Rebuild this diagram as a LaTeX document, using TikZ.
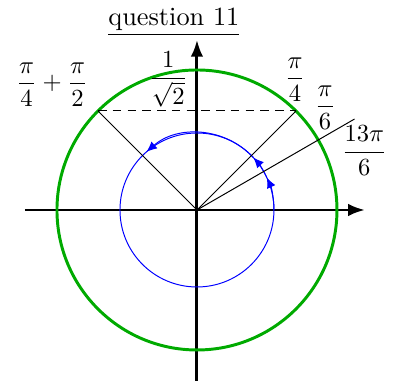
\documentclass[tikz,border=0pt]{standalone}
\usepackage{amsmath, amssymb}
\usepackage{tikz}
\usetikzlibrary{arrows.meta}
\definecolor{circgreen}{RGB}{0,170,0}
\tikzset{
  axis/.style={very thick, -{Latex[length=2.4mm,width=1.8mm]}},
  turn/.style={blue, -{Latex[length=1.5mm,width=1.3mm]}},
}

\begin{document}
\begin{tikzpicture}
				\useasboundingbox (-2.814,-2.429) rectangle (2.829,3.0);
				% axes
				\coordinate (O) at (0,0);
				\coordinate (xl) at (-2.46,0);
				\coordinate (xr) at (2.4,0);
				\coordinate (yb) at (0,-2.45);
				\coordinate (yt) at (0,2.43);
				\draw[axis] (xl) -- (xr);
				\draw[axis] (yb) -- (yt);
				% circles
				\draw[very thick, circgreen] (O) circle (2);
				\draw[blue] (O) circle (1.1);
				\draw[turn] (0:1.1) arc (0:25:1.1);
				\draw[turn] (25:1.1) arc (25:43:1.1);
				\draw[turn] (43:1.1) arc (43:131:1.1);
				% rays
				\coordinate (A) at (45:2);
				\coordinate (B) at (135:2);
				\coordinate (C) at (30:2.6);
				\draw (O) -- (A);
				\draw (O) -- (B);
				\draw (O) -- (C);
				\draw[dash pattern=on 3.5pt off 2.5pt] (B) -- (A);
				% labels
				\node[scale=1.07, inner sep=1pt] (title) at (-0.33,2.68) {\underline{question 11}};
				\node (lA) at (1.40,1.86) {$\dfrac{\pi}{4}$};
				\node (lC) at (1.83,1.46) {$\dfrac{\pi}{6}$};
				\node (lD) at (2.39,0.85) {$\dfrac{13\pi}{6}$};
				\node (lB) at (-2.07,1.79) {$\dfrac{\pi}{4}+\dfrac{\pi}{2}$};
				\node[inner sep=1pt] (lY) at (-0.41,1.86) {$\dfrac{1}{\sqrt{2}}$};
			\end{tikzpicture}
\end{document}
